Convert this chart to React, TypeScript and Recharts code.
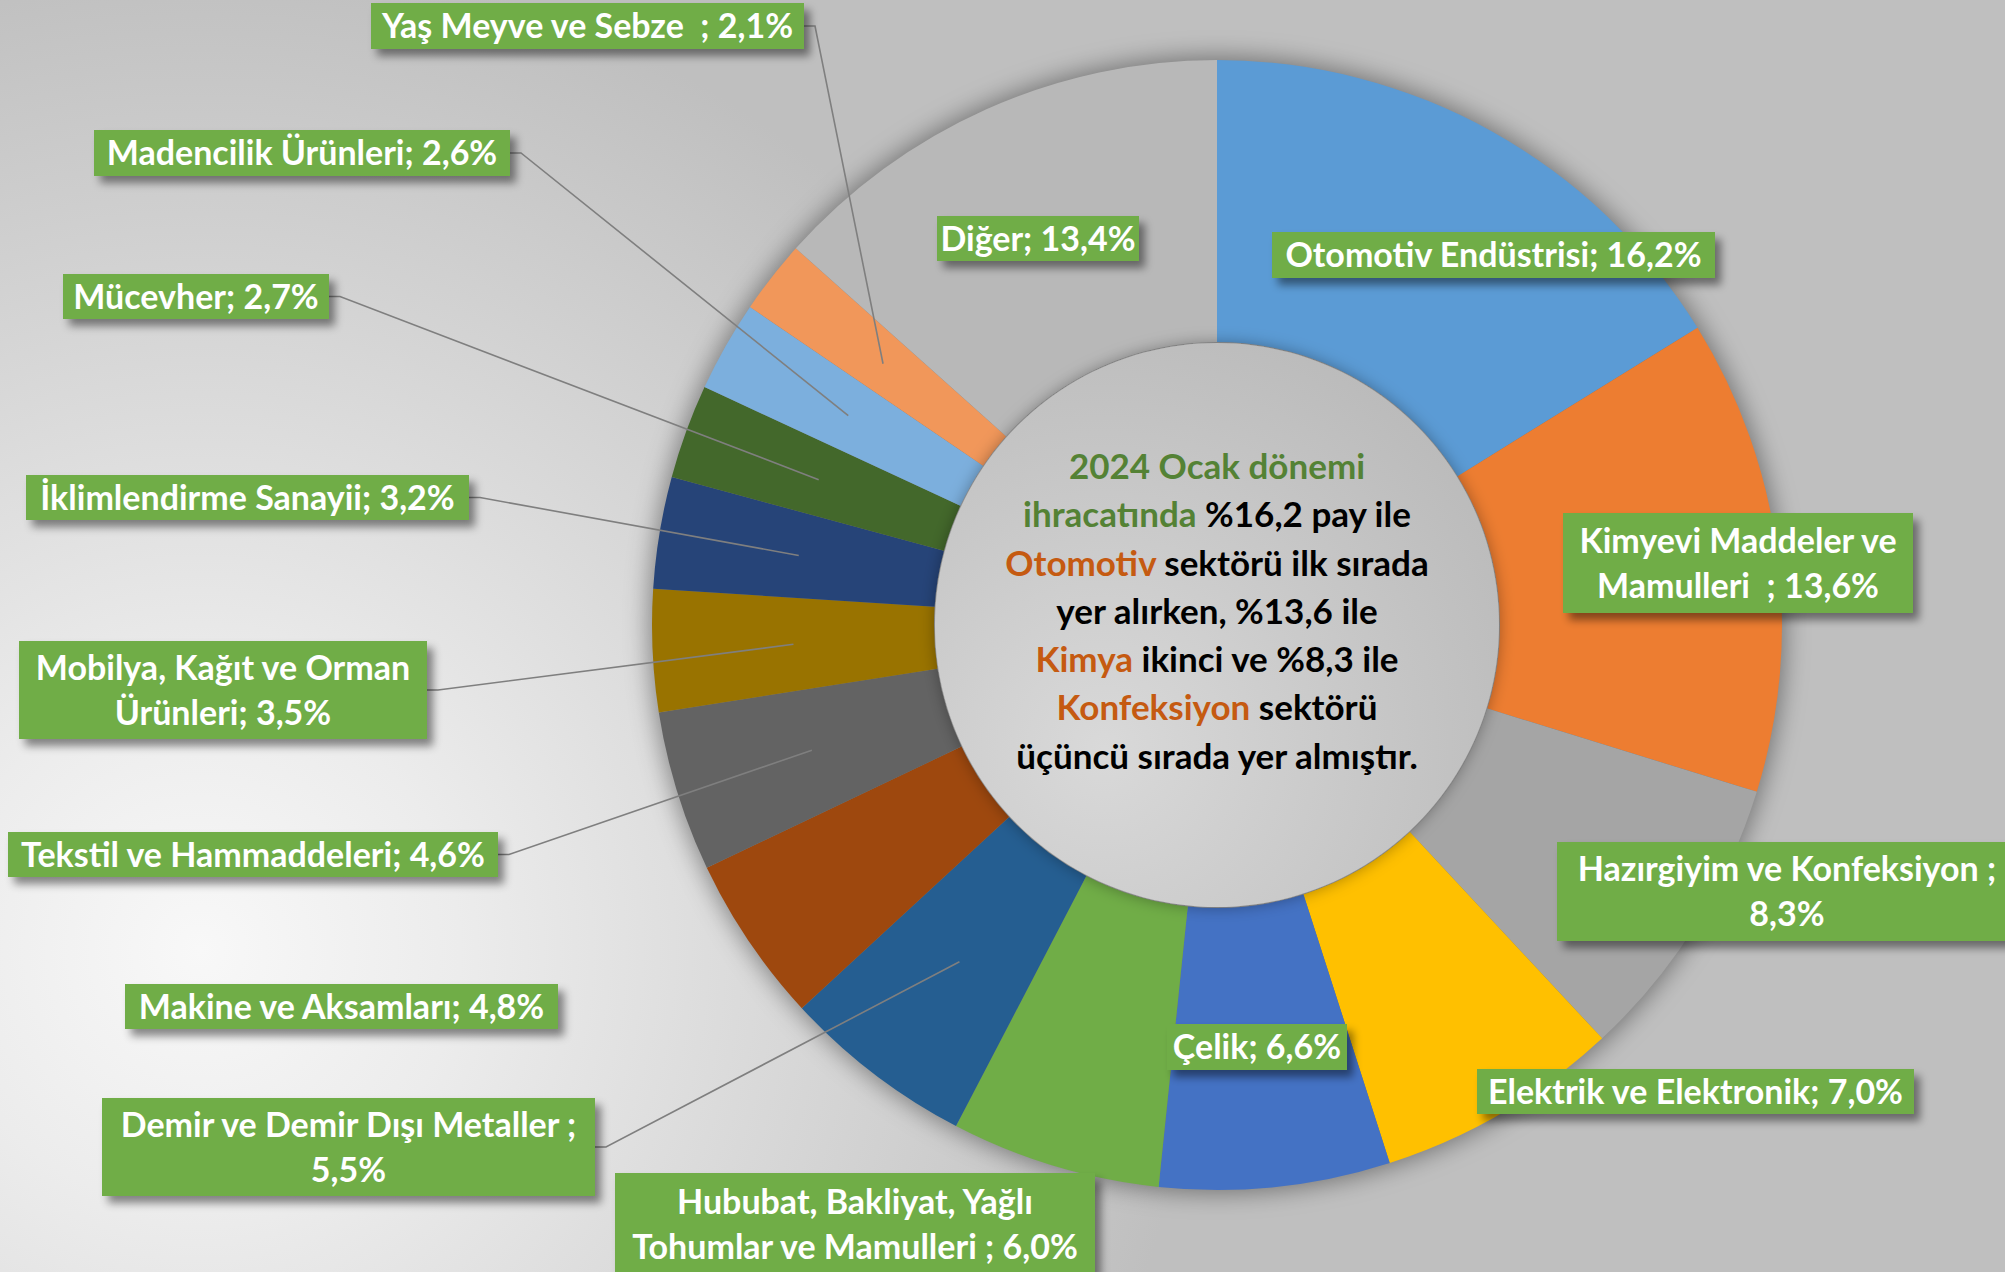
import { PieChart, Pie, Cell } from 'recharts'

// sector shares, clockwise from 12 o'clock
const sectors = [
  'Otomotiv Endüstrisi',
  'Kimyevi Maddeler ve Mamulleri',
  'Hazırgiyim ve Konfeksiyon',
  'Elektrik ve Elektronik',
  'Çelik',
  'Hububat, Bakliyat, Yağlı Tohumlar ve Mamulleri',
  'Demir ve Demir Dışı Metaller',
  'Makine ve Aksamları',
  'Tekstil ve Hammaddeleri',
  'Mobilya, Kağıt ve Orman Ürünleri',
  'İklimlendirme Sanayii',
  'Mücevher',
  'Madencilik Ürünleri',
  'Yaş Meyve ve Sebze',
  'Diğer',
]
const shares = [16.2, 13.6, 8.3, 7.0, 6.6, 6.0, 5.5, 4.8, 4.6, 3.5, 3.2, 2.7, 2.6, 2.1, 13.4]

// label text as it appears in the boxes (line breaks kept)
const labelLines = [
  ['Otomotiv Endüstrisi; 16,2%'],
  ['Kimyevi Maddeler ve', 'Mamulleri  ; 13,6%'],
  ['Hazırgiyim ve Konfeksiyon ;', '8,3%'],
  ['Elektrik ve Elektronik; 7,0%'],
  ['Çelik; 6,6%'],
  ['Hububat, Bakliyat, Yağlı', 'Tohumlar ve Mamulleri ; 6,0%'],
  ['Demir ve Demir Dışı Metaller ;', '5,5%'],
  ['Makine ve Aksamları; 4,8%'],
  ['Tekstil ve Hammaddeleri; 4,6%'],
  ['Mobilya, Kağıt ve Orman', 'Ürünleri; 3,5%'],
  ['İklimlendirme Sanayii; 3,2%'],
  ['Mücevher; 2,7%'],
  ['Madencilik Ürünleri; 2,6%'],
  ['Yaş Meyve ve Sebze  ; 2,1%'],
  ['Diğer; 13,4%'],
]

const colors = [
  '#5B9BD5', '#ED7D31', '#A5A5A5', '#FFC000', '#4472C4',
  '#70AD47', '#255E91', '#9E480E', '#636363', '#997300',
  '#264478', '#43682B', '#7CAFDD', '#F1975A', '#B8B8B8',
]

// center note, segments of [text, colour]
const noteLines: [string, string][][] = [
  [['2024 Ocak dönemi', 'green']],
  [['ihracatında ', 'green'], ['%16,2 pay ile', 'black']],
  [['Otomotiv ', 'orange'], ['sektörü ilk sırada', 'black']],
  [['yer alırken, %13,6 ile', 'black']],
  [['Kimya ', 'orange'], ['ikinci ve %8,3 ile', 'black']],
  [['Konfeksiyon ', 'orange'], ['sektörü', 'black']],
  [['üçüncü sırada yer almıştır.', 'black']],
]
const noteColors: Record<string, string> = { green: '#548235', orange: '#C55A11', black: '#000' }

// hand-placed label boxes (layout only)
const labelBoxes = [
  { x: 1272, y: 232, w: 443, h: 46, leader: false },
  { x: 1563, y: 513, w: 350, h: 100, leader: false },
  { x: 1557, y: 842, w: 460, h: 99, leader: false },
  { x: 1477, y: 1069, w: 437, h: 45, leader: false },
  { x: 1167, y: 1024, w: 180, h: 46, leader: false },
  { x: 615, y: 1173, w: 480, h: 102, leader: false },
  { x: 102, y: 1098, w: 493, h: 98, leader: true },
  { x: 125, y: 984, w: 433, h: 45, leader: false },
  { x: 8, y: 832, w: 490, h: 45, leader: true },
  { x: 19, y: 641, w: 408, h: 98, leader: true },
  { x: 26, y: 475, w: 443, h: 45, leader: true },
  { x: 63, y: 274, w: 266, h: 45, leader: true },
  { x: 94, y: 130, w: 416, h: 46, leader: true },
  { x: 371, y: 3, w: 433, h: 46, leader: true },
  { x: 937, y: 216, w: 202, h: 45, leader: false },
]

const data = sectors.map((name, i) => ({ name, value: shares[i] }))
const FONT = 'Lato, "Open Sans", sans-serif'
const RAD = Math.PI / 180

function renderLabel(props: any) {
  const { cx, cy, midAngle, innerRadius, outerRadius, index } = props
  const b = labelBoxes[index]
  const lines = labelLines[index]
  const r = (innerRadius + outerRadius) / 2
  const px = cx + r * Math.cos(-midAngle * RAD)
  const py = cy + r * Math.sin(-midAngle * RAD)
  const midY = b.y + b.h / 2
  const lh = 45
  const first = midY + 12 - ((lines.length - 1) * lh) / 2
  return (
    <g key={'lab' + index}>
      {b.leader && (
        <polyline
          points={`${b.x + b.w},${midY} ${b.x + b.w + 11},${midY} ${px},${py}`}
          fill="none"
          stroke="#7F7F7F"
          strokeWidth={1.6}
        />
      )}
      <rect x={b.x} y={b.y} width={b.w} height={b.h} fill="#70AD47" filter="url(#boxShadow)" />
      {lines.map((t, j) => (
        <text
          key={j}
          x={b.x + b.w / 2}
          y={first + j * lh}
          textAnchor="middle"
          fill="#fff"
          fontFamily={FONT}
          fontWeight={700}
          fontSize={34}
          style={{ whiteSpace: 'pre' }}
        >
          {t}
        </text>
      ))}
    </g>
  )
}

function renderNote(props: any) {
  const { cx, cy } = props
  const lh = 48.25
  const top = cy - 146
  return (
    <g key="note">
      {noteLines.map((segs, i) => (
        <text
          key={i}
          x={cx}
          y={top + i * lh}
          textAnchor="middle"
          fontFamily={FONT}
          fontWeight={700}
          fontSize={35}
          style={{ whiteSpace: 'pre' }}
        >
          {segs.map(([t, c], j) => (
            <tspan key={j} fill={noteColors[c]}>
              {t}
            </tspan>
          ))}
        </text>
      ))}
    </g>
  )
}

export default function App() {
  const cx = 1217
  const cy = 625
  return (
    <div
      style={{
        position: 'absolute',
        left: 0,
        top: 0,
        width: 2005,
        height: 1272,
        overflow: 'hidden',
        background:
          'radial-gradient(circle at 200px 950px, #f8f8f8 0px, #ececec 260px, #bfbfbf 1000px)',
      }}
    >
      <PieChart width={2005} height={1272} margin={{ top: 0, right: 0, bottom: 0, left: 0 }}>
        <defs>
          <filter id="ringShadow" x="-20%" y="-20%" width="140%" height="140%">
            <feGaussianBlur stdDeviation="12" />
          </filter>
          <filter id="boxShadow" x="-10%" y="-30%" width="130%" height="180%">
            <feDropShadow dx="6" dy="7" stdDeviation="4" floodColor="#000" floodOpacity="0.45" />
          </filter>
          <filter id="diskShadow" x="-20%" y="-20%" width="140%" height="140%">
            <feDropShadow dx="0" dy="0" stdDeviation="8" floodColor="#000" floodOpacity="0.35" />
          </filter>
          <radialGradient id="diskGrad" cx="30%" cy="72%" r="80%">
            <stop offset="0%" stopColor="#D9D9D9" />
            <stop offset="100%" stopColor="#BBBBBB" />
          </radialGradient>
        </defs>
        <Pie
          data={[{ value: 1 }]}
          dataKey="value"
          cx={cx}
          cy={cy}
          innerRadius={283}
          outerRadius={568}
          startAngle={90}
          endAngle={-270}
          stroke="none"
          isAnimationActive={false}
        >
          <Cell fill="#000" fillOpacity={0.4} filter="url(#ringShadow)" />
        </Pie>
        <Pie
          data={data}
          dataKey="value"
          nameKey="name"
          cx={cx}
          cy={cy}
          innerRadius={283}
          outerRadius={565}
          startAngle={90}
          endAngle={-270}
          stroke="none"
          label={renderLabel}
          labelLine={false}
          isAnimationActive={false}
        >
          {data.map((d, i) => (
            <Cell key={d.name} fill={colors[i]} />
          ))}
        </Pie>
        <Pie
          data={[{ value: 1 }]}
          dataKey="value"
          cx={cx}
          cy={cy}
          innerRadius={0}
          outerRadius={282}
          startAngle={90}
          endAngle={-270}
          stroke="none"
          label={renderNote}
          labelLine={false}
          isAnimationActive={false}
        >
          <Cell fill="url(#diskGrad)" filter="url(#diskShadow)" />
        </Pie>
      </PieChart>
    </div>
  )
}
